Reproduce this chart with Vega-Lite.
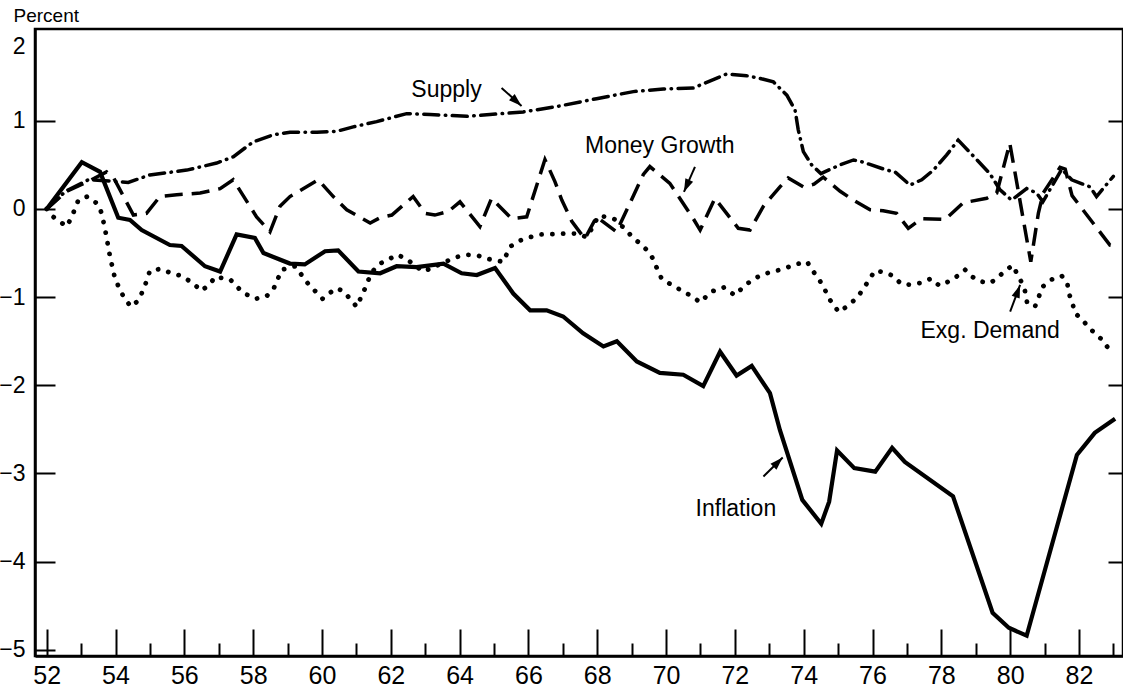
{
 "$schema": "https://vega.github.io/schema/vega-lite/v6.json",
 "width": 1088, "height": 627,
 "autosize": {"type": "none"},
 "padding": {"left": 35, "top": 29, "right": 0, "bottom": 36},
 "background": "white",
 "config": {"view": {"stroke": "black", "strokeWidth": 2.5}, "font": "Liberation Sans",
   "axis": {"grid": false, "domainColor": "black", "tickColor": "black", "labelColor": "black", "titleColor": "black", "labelFont": "Liberation Sans", "titleFont": "Liberation Sans"}},
 "resolve": {"axis": {"x": "independent", "y": "independent"}},
 "datasets": {
  "series": [
   {"s":"Inflation","year":52.0,"v":0},{"s":"Inflation","year":53.02,"v":0.53},{"s":"Inflation","year":53.55,"v":0.42},{"s":"Inflation","year":54.08,"v":-0.1},{"s":"Inflation","year":54.42,"v":-0.125},{"s":"Inflation","year":54.76,"v":-0.24},{"s":"Inflation","year":55.58,"v":-0.41},{"s":"Inflation","year":55.92,"v":-0.42},{"s":"Inflation","year":56.6,"v":-0.65},{"s":"Inflation","year":57.04,"v":-0.71},{"s":"Inflation","year":57.52,"v":-0.29},{"s":"Inflation","year":58.05,"v":-0.33},{"s":"Inflation","year":58.3,"v":-0.5},{"s":"Inflation","year":59.07,"v":-0.62},{"s":"Inflation","year":59.5,"v":-0.63},{"s":"Inflation","year":60.09,"v":-0.48},{"s":"Inflation","year":60.47,"v":-0.47},{"s":"Inflation","year":61.06,"v":-0.71},{"s":"Inflation","year":61.69,"v":-0.73},{"s":"Inflation","year":62.17,"v":-0.65},{"s":"Inflation","year":62.75,"v":-0.66},{"s":"Inflation","year":63.53,"v":-0.62},{"s":"Inflation","year":64.06,"v":-0.73},{"s":"Inflation","year":64.5,"v":-0.75},{"s":"Inflation","year":65.03,"v":-0.67},{"s":"Inflation","year":65.56,"v":-0.96},{"s":"Inflation","year":66.05,"v":-1.15},{"s":"Inflation","year":66.53,"v":-1.15},{"s":"Inflation","year":67.01,"v":-1.22},{"s":"Inflation","year":67.59,"v":-1.41},{"s":"Inflation","year":68.18,"v":-1.56},{"s":"Inflation","year":68.57,"v":-1.5},{"s":"Inflation","year":69.15,"v":-1.73},{"s":"Inflation","year":69.82,"v":-1.86},{"s":"Inflation","year":70.5,"v":-1.88},{"s":"Inflation","year":71.08,"v":-2.01},{"s":"Inflation","year":71.57,"v":-1.62},{"s":"Inflation","year":72.05,"v":-1.89},{"s":"Inflation","year":72.49,"v":-1.78},{"s":"Inflation","year":73.02,"v":-2.09},{"s":"Inflation","year":73.31,"v":-2.51},{"s":"Inflation","year":73.96,"v":-3.3},{"s":"Inflation","year":74.51,"v":-3.57},{"s":"Inflation","year":74.74,"v":-3.32},{"s":"Inflation","year":74.97,"v":-2.74},{"s":"Inflation","year":75.47,"v":-2.94},{"s":"Inflation","year":76.08,"v":-2.98},{"s":"Inflation","year":76.57,"v":-2.71},{"s":"Inflation","year":76.94,"v":-2.87},{"s":"Inflation","year":78.34,"v":-3.26},{"s":"Inflation","year":79.49,"v":-4.58},{"s":"Inflation","year":79.96,"v":-4.75},{"s":"Inflation","year":80.48,"v":-4.84},{"s":"Inflation","year":81.94,"v":-2.79},{"s":"Inflation","year":82.46,"v":-2.54},{"s":"Inflation","year":83.05,"v":-2.38},
   {"s":"Supply","year":52.0,"v":0},{"s":"Supply","year":52.55,"v":0.2},{"s":"Supply","year":53.21,"v":0.33},{"s":"Supply","year":53.7,"v":0.32},{"s":"Supply","year":54.37,"v":0.3},{"s":"Supply","year":55.0,"v":0.385},{"s":"Supply","year":56.07,"v":0.44},{"s":"Supply","year":56.94,"v":0.52},{"s":"Supply","year":57.42,"v":0.59},{"s":"Supply","year":58.0,"v":0.76},{"s":"Supply","year":58.59,"v":0.84},{"s":"Supply","year":59.07,"v":0.87},{"s":"Supply","year":59.85,"v":0.87},{"s":"Supply","year":60.43,"v":0.88},{"s":"Supply","year":60.91,"v":0.93},{"s":"Supply","year":61.59,"v":0.99},{"s":"Supply","year":62.46,"v":1.08},{"s":"Supply","year":63.14,"v":1.07},{"s":"Supply","year":64.21,"v":1.05},{"s":"Supply","year":64.88,"v":1.07},{"s":"Supply","year":65.85,"v":1.1},{"s":"Supply","year":66.82,"v":1.16},{"s":"Supply","year":67.98,"v":1.25},{"s":"Supply","year":69.05,"v":1.33},{"s":"Supply","year":69.92,"v":1.36},{"s":"Supply","year":70.79,"v":1.37},{"s":"Supply","year":71.76,"v":1.53},{"s":"Supply","year":72.34,"v":1.51},{"s":"Supply","year":72.73,"v":1.48},{"s":"Supply","year":73.12,"v":1.44},{"s":"Supply","year":73.51,"v":1.29},{"s":"Supply","year":73.75,"v":1.12},{"s":"Supply","year":73.84,"v":0.9},{"s":"Supply","year":73.99,"v":0.65},{"s":"Supply","year":74.23,"v":0.5},{"s":"Supply","year":74.5,"v":0.4},{"s":"Supply","year":75.06,"v":0.5},{"s":"Supply","year":75.45,"v":0.555},{"s":"Supply","year":75.73,"v":0.53},{"s":"Supply","year":76.41,"v":0.44},{"s":"Supply","year":76.65,"v":0.42},{"s":"Supply","year":77.09,"v":0.27},{"s":"Supply","year":77.43,"v":0.33},{"s":"Supply","year":77.77,"v":0.44},{"s":"Supply","year":78.15,"v":0.61},{"s":"Supply","year":78.49,"v":0.78},{"s":"Supply","year":78.88,"v":0.62},{"s":"Supply","year":79.41,"v":0.4},{"s":"Supply","year":79.7,"v":0.22},{"s":"Supply","year":80.04,"v":0.1},{"s":"Supply","year":80.48,"v":0.23},{"s":"Supply","year":80.77,"v":0.18},{"s":"Supply","year":80.95,"v":0.08},{"s":"Supply","year":81.5,"v":0.45},{"s":"Supply","year":81.79,"v":0.33},{"s":"Supply","year":82.32,"v":0.25},{"s":"Supply","year":82.51,"v":0.14},{"s":"Supply","year":83.0,"v":0.37},
   {"s":"Money Growth","year":52.0,"v":0},{"s":"Money Growth","year":52.58,"v":0.2},{"s":"Money Growth","year":53.3,"v":0.33},{"s":"Money Growth","year":53.74,"v":0.42},{"s":"Money Growth","year":53.95,"v":0.35},{"s":"Money Growth","year":54.52,"v":-0.07},{"s":"Money Growth","year":54.9,"v":-0.05},{"s":"Money Growth","year":55.29,"v":0.14},{"s":"Money Growth","year":55.78,"v":0.16},{"s":"Money Growth","year":56.46,"v":0.18},{"s":"Money Growth","year":57.04,"v":0.23},{"s":"Money Growth","year":57.42,"v":0.33},{"s":"Money Growth","year":58.1,"v":-0.09},{"s":"Money Growth","year":58.49,"v":-0.26},{"s":"Money Growth","year":58.78,"v":0.03},{"s":"Money Growth","year":59.07,"v":0.14},{"s":"Money Growth","year":59.89,"v":0.33},{"s":"Money Growth","year":60.33,"v":0.14},{"s":"Money Growth","year":60.72,"v":-0.01},{"s":"Money Growth","year":61.4,"v":-0.16},{"s":"Money Growth","year":61.69,"v":-0.1},{"s":"Money Growth","year":62.03,"v":-0.07},{"s":"Money Growth","year":62.65,"v":0.14},{"s":"Money Growth","year":63.0,"v":-0.05},{"s":"Money Growth","year":63.28,"v":-0.07},{"s":"Money Growth","year":63.67,"v":-0.03},{"s":"Money Growth","year":64.01,"v":0.08},{"s":"Money Growth","year":64.59,"v":-0.2},{"s":"Money Growth","year":64.93,"v":0.12},{"s":"Money Growth","year":65.51,"v":-0.11},{"s":"Money Growth","year":65.95,"v":-0.09},{"s":"Money Growth","year":66.48,"v":0.56},{"s":"Money Growth","year":66.77,"v":0.31},{"s":"Money Growth","year":66.97,"v":0.1},{"s":"Money Growth","year":67.26,"v":-0.14},{"s":"Money Growth","year":67.64,"v":-0.34},{"s":"Money Growth","year":67.98,"v":-0.09},{"s":"Money Growth","year":68.56,"v":-0.26},{"s":"Money Growth","year":69.34,"v":0.39},{"s":"Money Growth","year":69.53,"v":0.48},{"s":"Money Growth","year":70.11,"v":0.29},{"s":"Money Growth","year":70.79,"v":-0.11},{"s":"Money Growth","year":70.99,"v":-0.24},{"s":"Money Growth","year":71.42,"v":0.12},{"s":"Money Growth","year":72.1,"v":-0.22},{"s":"Money Growth","year":72.44,"v":-0.24},{"s":"Money Growth","year":72.83,"v":0.03},{"s":"Money Growth","year":73.31,"v":0.25},{"s":"Money Growth","year":73.55,"v":0.35},{"s":"Money Growth","year":73.99,"v":0.25},{"s":"Money Growth","year":74.3,"v":0.28},{"s":"Money Growth","year":74.57,"v":0.36},{"s":"Money Growth","year":75.06,"v":0.2},{"s":"Money Growth","year":75.44,"v":0.1},{"s":"Money Growth","year":75.93,"v":-0.01},{"s":"Money Growth","year":76.31,"v":-0.02},{"s":"Money Growth","year":76.7,"v":-0.05},{"s":"Money Growth","year":77.04,"v":-0.22},{"s":"Money Growth","year":77.43,"v":-0.11},{"s":"Money Growth","year":78.11,"v":-0.12},{"s":"Money Growth","year":78.64,"v":0.07},{"s":"Money Growth","year":79.32,"v":0.12},{"s":"Money Growth","year":79.61,"v":0.18},{"s":"Money Growth","year":79.99,"v":0.745},{"s":"Money Growth","year":80.6,"v":-0.6},{"s":"Money Growth","year":80.82,"v":-0.05},{"s":"Money Growth","year":80.96,"v":0.18},{"s":"Money Growth","year":81.45,"v":0.47},{"s":"Money Growth","year":81.6,"v":0.45},{"s":"Money Growth","year":81.8,"v":0.15},{"s":"Money Growth","year":82.9,"v":-0.41},{"s":"Money Growth","year":83.05,"v":-0.42},
   {"s":"Exg. Demand","year":52.0,"v":0},{"s":"Exg. Demand","year":52.19,"v":-0.09},{"s":"Exg. Demand","year":52.58,"v":-0.2},{"s":"Exg. Demand","year":52.73,"v":-0.09},{"s":"Exg. Demand","year":52.92,"v":0.1},{"s":"Exg. Demand","year":53.18,"v":0.14},{"s":"Exg. Demand","year":53.47,"v":0.06},{"s":"Exg. Demand","year":53.6,"v":-0.05},{"s":"Exg. Demand","year":53.72,"v":-0.28},{"s":"Exg. Demand","year":53.84,"v":-0.54},{"s":"Exg. Demand","year":53.99,"v":-0.8},{"s":"Exg. Demand","year":54.25,"v":-1.01},{"s":"Exg. Demand","year":54.45,"v":-1.11},{"s":"Exg. Demand","year":54.66,"v":-1.04},{"s":"Exg. Demand","year":54.83,"v":-0.9},{"s":"Exg. Demand","year":55.0,"v":-0.7},{"s":"Exg. Demand","year":55.31,"v":-0.68},{"s":"Exg. Demand","year":55.63,"v":-0.73},{"s":"Exg. Demand","year":55.92,"v":-0.76},{"s":"Exg. Demand","year":56.24,"v":-0.84},{"s":"Exg. Demand","year":56.5,"v":-0.93},{"s":"Exg. Demand","year":56.77,"v":-0.84},{"s":"Exg. Demand","year":56.89,"v":-0.77},{"s":"Exg. Demand","year":57.33,"v":-0.8},{"s":"Exg. Demand","year":57.7,"v":-0.95},{"s":"Exg. Demand","year":58.07,"v":-1.02},{"s":"Exg. Demand","year":58.39,"v":-0.99},{"s":"Exg. Demand","year":58.59,"v":-0.91},{"s":"Exg. Demand","year":58.83,"v":-0.69},{"s":"Exg. Demand","year":59.22,"v":-0.65},{"s":"Exg. Demand","year":59.6,"v":-0.85},{"s":"Exg. Demand","year":60.02,"v":-1.02},{"s":"Exg. Demand","year":60.4,"v":-0.9},{"s":"Exg. Demand","year":60.62,"v":-0.93},{"s":"Exg. Demand","year":61.01,"v":-1.11},{"s":"Exg. Demand","year":61.23,"v":-0.92},{"s":"Exg. Demand","year":61.44,"v":-0.72},{"s":"Exg. Demand","year":61.69,"v":-0.62},{"s":"Exg. Demand","year":62.2,"v":-0.52},{"s":"Exg. Demand","year":62.46,"v":-0.57},{"s":"Exg. Demand","year":62.94,"v":-0.71},{"s":"Exg. Demand","year":63.19,"v":-0.67},{"s":"Exg. Demand","year":63.87,"v":-0.55},{"s":"Exg. Demand","year":64.19,"v":-0.52},{"s":"Exg. Demand","year":64.53,"v":-0.53},{"s":"Exg. Demand","year":64.86,"v":-0.57},{"s":"Exg. Demand","year":65.27,"v":-0.6},{"s":"Exg. Demand","year":65.46,"v":-0.43},{"s":"Exg. Demand","year":65.75,"v":-0.36},{"s":"Exg. Demand","year":66.05,"v":-0.32},{"s":"Exg. Demand","year":66.38,"v":-0.29},{"s":"Exg. Demand","year":67.06,"v":-0.28},{"s":"Exg. Demand","year":67.4,"v":-0.28},{"s":"Exg. Demand","year":67.69,"v":-0.32},{"s":"Exg. Demand","year":67.88,"v":-0.2},{"s":"Exg. Demand","year":68.03,"v":-0.08},{"s":"Exg. Demand","year":68.27,"v":-0.09},{"s":"Exg. Demand","year":68.52,"v":-0.12},{"s":"Exg. Demand","year":68.81,"v":-0.23},{"s":"Exg. Demand","year":69.0,"v":-0.31},{"s":"Exg. Demand","year":69.29,"v":-0.41},{"s":"Exg. Demand","year":69.48,"v":-0.48},{"s":"Exg. Demand","year":69.63,"v":-0.57},{"s":"Exg. Demand","year":69.73,"v":-0.67},{"s":"Exg. Demand","year":69.87,"v":-0.79},{"s":"Exg. Demand","year":70.11,"v":-0.85},{"s":"Exg. Demand","year":70.38,"v":-0.91},{"s":"Exg. Demand","year":70.7,"v":-0.98},{"s":"Exg. Demand","year":71.0,"v":-1.06},{"s":"Exg. Demand","year":71.3,"v":-0.94},{"s":"Exg. Demand","year":71.68,"v":-0.89},{"s":"Exg. Demand","year":72.0,"v":-0.98},{"s":"Exg. Demand","year":72.26,"v":-0.88},{"s":"Exg. Demand","year":72.52,"v":-0.8},{"s":"Exg. Demand","year":72.83,"v":-0.74},{"s":"Exg. Demand","year":73.12,"v":-0.71},{"s":"Exg. Demand","year":73.41,"v":-0.68},{"s":"Exg. Demand","year":73.75,"v":-0.63},{"s":"Exg. Demand","year":74.1,"v":-0.6},{"s":"Exg. Demand","year":74.26,"v":-0.7},{"s":"Exg. Demand","year":74.45,"v":-0.8},{"s":"Exg. Demand","year":74.62,"v":-0.92},{"s":"Exg. Demand","year":74.76,"v":-1.03},{"s":"Exg. Demand","year":75.02,"v":-1.17},{"s":"Exg. Demand","year":75.28,"v":-1.1},{"s":"Exg. Demand","year":75.57,"v":-1.0},{"s":"Exg. Demand","year":75.86,"v":-0.83},{"s":"Exg. Demand","year":76.07,"v":-0.7},{"s":"Exg. Demand","year":76.36,"v":-0.72},{"s":"Exg. Demand","year":76.6,"v":-0.76},{"s":"Exg. Demand","year":76.83,"v":-0.85},{"s":"Exg. Demand","year":77.12,"v":-0.86},{"s":"Exg. Demand","year":77.38,"v":-0.84},{"s":"Exg. Demand","year":77.7,"v":-0.79},{"s":"Exg. Demand","year":77.94,"v":-0.87},{"s":"Exg. Demand","year":78.23,"v":-0.82},{"s":"Exg. Demand","year":78.47,"v":-0.76},{"s":"Exg. Demand","year":78.69,"v":-0.69},{"s":"Exg. Demand","year":78.9,"v":-0.77},{"s":"Exg. Demand","year":79.1,"v":-0.82},{"s":"Exg. Demand","year":79.42,"v":-0.84},{"s":"Exg. Demand","year":79.61,"v":-0.79},{"s":"Exg. Demand","year":79.83,"v":-0.71},{"s":"Exg. Demand","year":80.07,"v":-0.64},{"s":"Exg. Demand","year":80.21,"v":-0.74},{"s":"Exg. Demand","year":80.33,"v":-0.83},{"s":"Exg. Demand","year":80.43,"v":-0.93},{"s":"Exg. Demand","year":80.5,"v":-1.08},{"s":"Exg. Demand","year":80.73,"v":-1.1},{"s":"Exg. Demand","year":80.84,"v":-0.99},{"s":"Exg. Demand","year":80.92,"v":-0.89},{"s":"Exg. Demand","year":81.21,"v":-0.8},{"s":"Exg. Demand","year":81.5,"v":-0.76},{"s":"Exg. Demand","year":81.66,"v":-0.84},{"s":"Exg. Demand","year":81.71,"v":-0.96},{"s":"Exg. Demand","year":81.82,"v":-1.08},{"s":"Exg. Demand","year":81.88,"v":-1.18},{"s":"Exg. Demand","year":82.08,"v":-1.25},{"s":"Exg. Demand","year":82.3,"v":-1.35},{"s":"Exg. Demand","year":82.49,"v":-1.42},{"s":"Exg. Demand","year":82.69,"v":-1.49},{"s":"Exg. Demand","year":82.85,"v":-1.58}
  ],
  "labels": [
   {"label": "Supply", "x": 63.62, "y": 1.266},
   {"label": "Money Growth", "x": 69.82, "y": 0.635},
   {"label": "Exg. Demand", "x": 79.42, "y": -1.466},
   {"label": "Inflation", "x": 72.03, "y": -3.48}
  ],
  "arrows": [
   {"name": "Supply", "x": 65.22, "y": 1.372, "x2": 65.8, "y2": 1.168},
   {"name": "Money Growth", "x": 70.84, "y": 0.476, "x2": 70.52, "y2": 0.193},
   {"name": "Exg. Demand", "x": 80.0, "y": -1.164, "x2": 80.29, "y2": -0.862},
   {"name": "Inflation", "x": 72.83, "y": -3.035, "x2": 73.39, "y2": -2.82}
  ]
 },
 "layer": [
  {"data": {"name": "series"}, "transform": [{"filter": "datum.s === 'Inflation'"}],
   "mark": {"type": "line", "color": "black", "strokeWidth": 4.2, "strokeJoin": "miter"},
   "encoding": {
    "x": {"field": "year", "type": "quantitative", "scale": {"domain": [51.66, 83.28], "nice": false, "zero": false},
      "axis": {"orient": "bottom", "values": [52,54,56,58,60,62,64,66,68,70,72,74,76,78,80,82], "format": "d", "tickSize": -27, "tickWidth": 2, "domainWidth": 2.5, "labelFontSize": 25, "labelPadding": 34, "labelFlush": false, "labelOverlap": false, "title": null}},
    "y": {"field": "v", "type": "quantitative", "scale": {"domain": [-5.07, 2.04], "nice": false, "zero": false},
      "axis": {"orient": "left", "values": [-5,-4,-3,-2,-1,0,1,2], "format": "d", "tickSize": -20, "tickWidth": 2, "domainWidth": 2.5, "labelFontSize": 23, "labelPadding": 30, "labelOverlap": false, "labelFlush": false,
        "labelOffset": {"condition": {"test": "datum.value == 2", "value": 14}, "value": 0},
        "tickOpacity": {"condition": {"test": "datum.value == 2", "value": 0}, "value": 1},
        "title": "Percent", "titleAngle": 0, "titleAlign": "left", "titleBaseline": "alphabetic", "titleX": -22, "titleY": -8, "titleFontSize": 19, "titleFontWeight": "normal"}}
   }},
  {"data": {"name": "series"}, "transform": [{"filter": "datum.s === 'Supply'"}],
   "mark": {"type": "line", "color": "black", "strokeWidth": 3.5, "strokeDash": [15, 6.5, 0.5, 6.5], "strokeCap": "round"},
   "encoding": {
    "x": {"field": "year", "type": "quantitative", "scale": {"domain": [51.66, 83.28], "nice": false, "zero": false},
      "axis": {"orient": "bottom", "values": [53,55,57,59,61,63,65,67,69,71,73,75,77,79,81,83], "tickSize": -13, "tickWidth": 2, "labels": false, "domain": false, "title": null}},
    "y": {"field": "v", "type": "quantitative", "scale": {"domain": [-5.07, 2.04], "nice": false, "zero": false},
      "axis": {"orient": "right", "values": [-4,-3,-2,-1,0,1], "tickSize": -15, "tickWidth": 2, "labels": false, "domain": false, "title": null}}
   }},
  {"data": {"name": "series"}, "transform": [{"filter": "datum.s === 'Money Growth'"}],
   "mark": {"type": "line", "color": "black", "strokeWidth": 3.5, "strokeDash": [18, 9]},
   "encoding": {
    "x": {"field": "year", "type": "quantitative", "axis": null},
    "y": {"field": "v", "type": "quantitative", "axis": null}
   }},
  {"data": {"name": "series"}, "transform": [{"filter": "datum.s === 'Exg. Demand'"}],
   "mark": {"type": "line", "color": "black", "strokeWidth": 4.8, "strokeDash": [0.1, 10.7], "strokeCap": "round"},
   "encoding": {
    "x": {"field": "year", "type": "quantitative", "axis": null},
    "y": {"field": "v", "type": "quantitative", "axis": null}
   }},
  {"data": {"name": "labels"},
   "mark": {"type": "text", "font": "Liberation Sans", "fontSize": 23, "color": "black", "align": "center", "baseline": "alphabetic"},
   "encoding": {
    "x": {"field": "x", "type": "quantitative", "axis": null},
    "y": {"field": "y", "type": "quantitative", "axis": null},
    "text": {"field": "label"}
   }},
  {"data": {"name": "arrows"},
   "mark": {"type": "rule", "color": "black", "strokeWidth": 2},
   "encoding": {
    "x": {"field": "x", "type": "quantitative", "axis": null},
    "y": {"field": "y", "type": "quantitative", "axis": null},
    "x2": {"field": "x2"},
    "y2": {"field": "y2"}
   }},
  {"data": {"name": "arrows"}, "transform": [{"filter": "datum.name === 'Supply'"}],
   "mark": {"type": "point", "filled": true, "color": "black", "opacity": 1, "shape": "M0,0L0.65,2L-0.65,2Z", "size": 170, "angle": 132},
   "encoding": {"x": {"field": "x2", "type": "quantitative", "axis": null}, "y": {"field": "y2", "type": "quantitative", "axis": null}}},
  {"data": {"name": "arrows"}, "transform": [{"filter": "datum.name === 'Money Growth'"}],
   "mark": {"type": "point", "filled": true, "color": "black", "opacity": 1, "shape": "M0,0L0.65,2L-0.65,2Z", "size": 170, "angle": 204},
   "encoding": {"x": {"field": "x2", "type": "quantitative", "axis": null}, "y": {"field": "y2", "type": "quantitative", "axis": null}}},
  {"data": {"name": "arrows"}, "transform": [{"filter": "datum.name === 'Exg. Demand'"}],
   "mark": {"type": "point", "filled": true, "color": "black", "opacity": 1, "shape": "M0,0L0.65,2L-0.65,2Z", "size": 170, "angle": 20},
   "encoding": {"x": {"field": "x2", "type": "quantitative", "axis": null}, "y": {"field": "y2", "type": "quantitative", "axis": null}}},
  {"data": {"name": "arrows"}, "transform": [{"filter": "datum.name === 'Inflation'"}],
   "mark": {"type": "point", "filled": true, "color": "black", "opacity": 1, "shape": "M0,0L0.65,2L-0.65,2Z", "size": 170, "angle": 45},
   "encoding": {"x": {"field": "x2", "type": "quantitative", "axis": null}, "y": {"field": "y2", "type": "quantitative", "axis": null}}}
 ]
}
